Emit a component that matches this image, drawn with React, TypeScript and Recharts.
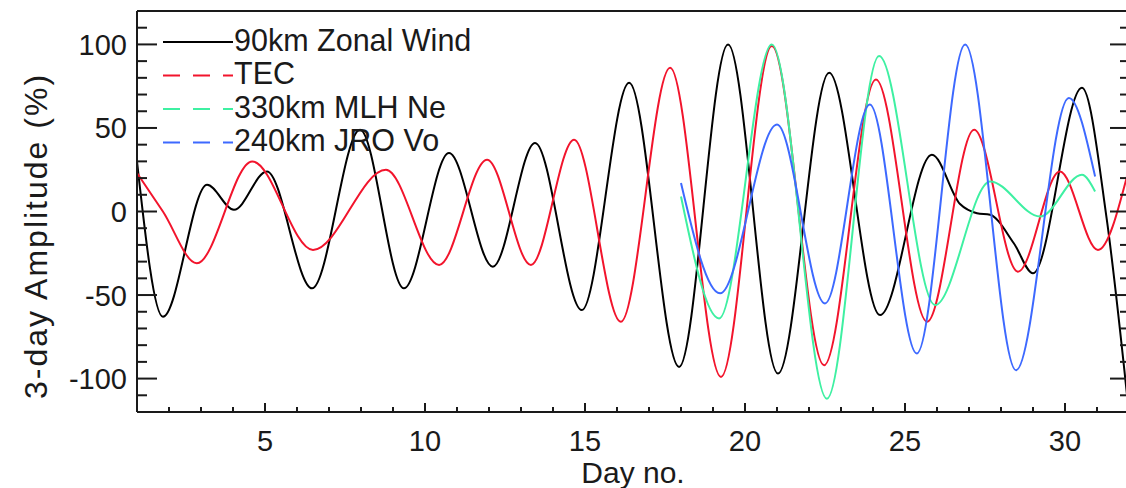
import React from 'react'
import { LineChart, Line, XAxis, YAxis } from 'recharts'

const FONT = '"Liberation Sans", Arial, Helvetica, sans-serif'
const INK = '#1a1a1a'

// values: day number and 3-day amplitude (%)
const windDay = [1.0, 1.81, 3.19, 4.03, 5.06, 6.47, 7.97, 9.34, 10.75, 12.12, 13.44, 14.9, 16.38, 17.94, 19.47, 21.03, 22.63, 24.22, 25.84, 26.72, 27.25, 27.66, 28.4, 29.0, 30.53, 31.3, 31.95]
const windAmp = [30, -63, 16, 1, 24, -46, 49, -46, 35, -33, 41, -59, 77, -93, 100, -97, 83, -62, 34, 4.5, -1, -2, -19, -37, 74, -4, -112]

const tecDay = [1.0, 1.81, 2.87, 4.6, 6.5, 8.78, 10.44, 11.94, 13.31, 14.66, 16.12, 17.66, 19.25, 20.84, 22.47, 24.09, 25.69, 27.16, 28.53, 29.84, 31.03, 31.95]
const tecAmp = [23, 0, -31, 30, -23, 25, -32, 31, -32, 43, -66, 86, -99, 99, -92, 79, -66, 49, -36, 24, -23, 22]

const mlhDay = [18.0, 19.19, 20.84, 22.56, 24.19, 25.94, 27.66, 29.22, 30.53, 30.94]
const mlhAmp = [9, -64, 100, -112, 93, -56, 18, -3, 22, 12]

const jroDay = [18.0, 19.22, 21.0, 22.5, 23.9, 25.37, 26.88, 28.47, 30.12, 30.94]
const jroAmp = [17, -49, 52, -55, 64, -85, 100, -95, 68, 21]

const xMajor = [5, 10, 15, 20, 25, 30]
const yMajor = [-100, -50, 0, 50, 100]

const series = [
  { name: '90km Zonal Wind', days: windDay, amps: windAmp, color: '#000000', dash: undefined },
  { name: 'TEC', days: tecDay, amps: tecAmp, color: '#f2142c', dash: '17 13' },
  { name: '330km MLH Ne', days: mlhDay, amps: mlhAmp, color: '#3ef0a2', dash: '17 13' },
  { name: '240km JRO Vo', days: jroDay, amps: jroAmp, color: '#3d69ff', dash: '17 13' },
]

const toRows = (days: number[], amps: number[]) => days.map((d, i) => ({ day: d, v: amps[i] }))

const xTicks: number[] = []
for (let d = 2; d <= 31; d++) xTicks.push(d)
const yTicks: number[] = []
for (let v = -110; v <= 110; v += 10) yTicks.push(v)

const BottomTick = (p: any) => {
  const major = xMajor.includes(p.payload.value)
  return (
    <g>
      <line x1={p.x} x2={p.x} y1={p.y} y2={p.y - (major ? 9 : 5)} stroke={INK} strokeWidth={2} />
      {major && (
        <text x={p.x} y={p.y + 39} textAnchor="middle" fontSize={29} fontFamily={FONT} fill={INK}>
          {p.payload.value}
        </text>
      )}
    </g>
  )
}

const TopTick = (p: any) => {
  const major = xMajor.includes(p.payload.value)
  return <line x1={p.x} x2={p.x} y1={p.y} y2={p.y + (major ? 8 : 4)} stroke={INK} strokeWidth={2} />
}

const LeftTick = (p: any) => {
  const major = yMajor.includes(p.payload.value)
  return (
    <g>
      <line x1={p.x} x2={p.x + (major ? 20 : 10)} y1={p.y} y2={p.y} stroke={INK} strokeWidth={2} />
      {major && (
        <text x={p.x - 10} y={p.y + 10.5} textAnchor="end" fontSize={29} fontFamily={FONT} fill={INK}>
          {p.payload.value}
        </text>
      )}
    </g>
  )
}

const RightTick = (p: any) => {
  const major = yMajor.includes(p.payload.value)
  return <line x1={p.x} x2={p.x - (major ? 19 : 9)} y1={p.y} y2={p.y} stroke={INK} strokeWidth={2} />
}

const axisLine = { stroke: INK, strokeWidth: 2 }

export default function App() {
  const legendY = [42, 75.5, 109, 142.5]
  return (
    <div style={{ position: 'absolute', left: 0, top: 0, width: 1126, height: 488, overflow: 'hidden', background: '#fff' }}>
      <LineChart width={1140} height={488} margin={{ top: 10, right: 10, bottom: 36, left: 77 }}>
        <XAxis dataKey="day" type="number" domain={[1, 32]} allowDataOverflow ticks={xTicks} interval={0}
          tickSize={0} tickMargin={0} tickLine={false} axisLine={axisLine} tick={BottomTick} height={40} />
        <XAxis xAxisId="top" orientation="top" type="number" domain={[1, 32]} allowDataOverflow ticks={xTicks} interval={0}
          tickSize={0} tickMargin={0} tickLine={false} axisLine={axisLine} tick={TopTick} height={1} />
        <YAxis type="number" domain={[-120, 120]} allowDataOverflow ticks={yTicks} interval={0}
          tickSize={0} tickMargin={0} tickLine={false} axisLine={axisLine} tick={LeftTick} width={60} />
        <YAxis yAxisId="right" orientation="right" type="number" domain={[-120, 120]} allowDataOverflow ticks={yTicks} interval={0}
          tickSize={0} tickMargin={0} tickLine={false} axisLine={axisLine} tick={RightTick} width={1} />
        {series.map((s) => (
          <Line key={s.name} data={toRows(s.days, s.amps)} dataKey="v" name={s.name} type="monotone"
            stroke={s.color} strokeWidth={2} dot={false} activeDot={false} isAnimationActive={false} />
        ))}
      </LineChart>
      <svg width={1126} height={488} style={{ position: 'absolute', left: 0, top: 0, pointerEvents: 'none' }}>
        {series.map((s, i) => (
          <g key={s.name}>
            <line x1={163} x2={233} y1={legendY[i]} y2={legendY[i]} stroke={s.color} strokeWidth={2} strokeDasharray={s.dash} />
            <text x={234} y={legendY[i] + 8.5} fontSize={30.5} fontFamily={FONT} fill={INK}>{s.name}</text>
          </g>
        ))}
        <text x={633} y={483} textAnchor="middle" fontSize={30} fontFamily={FONT} fill={INK}>Day no.</text>
        <text x={47} y={236} transform="rotate(-90 47 236)" textAnchor="middle" fontSize={32} letterSpacing={2}
          fontFamily={FONT} fill={INK}>
          3-day Amplitude (%)
        </text>
      </svg>
    </div>
  )
}
